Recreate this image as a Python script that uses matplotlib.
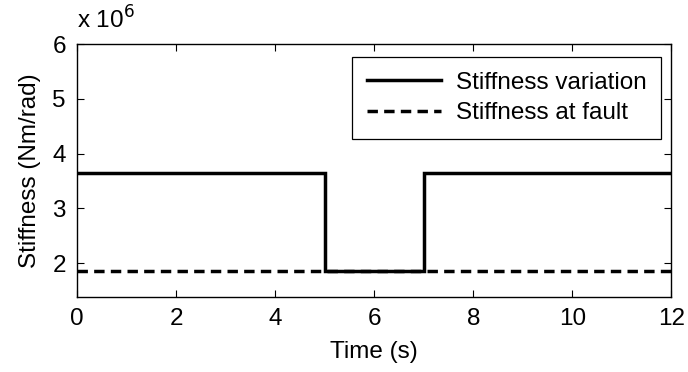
import matplotlib
matplotlib.use("Agg")
import matplotlib.pyplot as plt
from matplotlib.ticker import FuncFormatter


# step profile of the shaft stiffness (Nm/rad)
time_steps = [0, 5, 5, 7, 7, 12]
stiffness_variation = [3.65e6, 3.65e6, 1.85e6, 1.85e6, 3.65e6, 3.65e6]

fault_time = [0, 12]
stiffness_at_fault = [1.85e6, 1.85e6]

x_ticks = [0, 2, 4, 6, 8, 10, 12]
y_ticks = [2e6, 3e6, 4e6, 5e6, 6e6]

legend_labels = ["Stiffness variation", "Stiffness at fault"]


plt.rcParams["font.family"] = ["Liberation Sans", "DejaVu Sans"]
plt.rcParams["font.size"] = 17.5

fig = plt.figure(figsize=(6.88, 3.72), dpi=100)

ax = fig.add_axes([0.112, 0.2016, 0.864, 0.68])

########################################################
# Lines
########################################################

ax.plot(

    time_steps,

    stiffness_variation,

    color="black",

    linewidth=2.5,

    solid_joinstyle="miter",

    label=legend_labels[0]

)

ax.plot(

    fault_time,

    stiffness_at_fault,

    color="black",

    linewidth=2.5,

    linestyle=(0, (3.0, 1.8)),

    label=legend_labels[1]

)

########################################################
# Axes
########################################################

ax.set_xlim(0, 12)

ax.set_ylim(1.38e6, 6e6)

ax.set_xticks(x_ticks)

ax.set_yticks(y_ticks)

ax.yaxis.set_major_formatter(

    FuncFormatter(lambda v, pos: f"{v / 1e6:g}")

)

ax.tick_params(

    direction="in",

    top=True,

    right=True,

    length=5,

    width=0.8,

    pad=8

)

for spine in ax.spines.values():

    spine.set_linewidth(1.0)

ax.text(

    0.0,

    1.04,

    r"x 10$^{6}$",

    transform=ax.transAxes,

    ha="left",

    va="bottom"

)

ax.set_xlabel("Time (s)", labelpad=8)

ax.set_ylabel("Stiffness (Nm/rad)", labelpad=8)

leg = ax.legend(

    loc="upper right",

    bbox_to_anchor=(661 / 688, (372 - 57) / 372),

    bbox_transform=fig.transFigure,

    borderaxespad=0,

    fancybox=False,

    framealpha=1,

    edgecolor="black",

    handlelength=3.05,

    handletextpad=0.6,

    labelspacing=0.35,

    borderpad=0.6

)

leg.get_frame().set_linewidth(0.9)

fig.savefig("out.png", dpi=100)
